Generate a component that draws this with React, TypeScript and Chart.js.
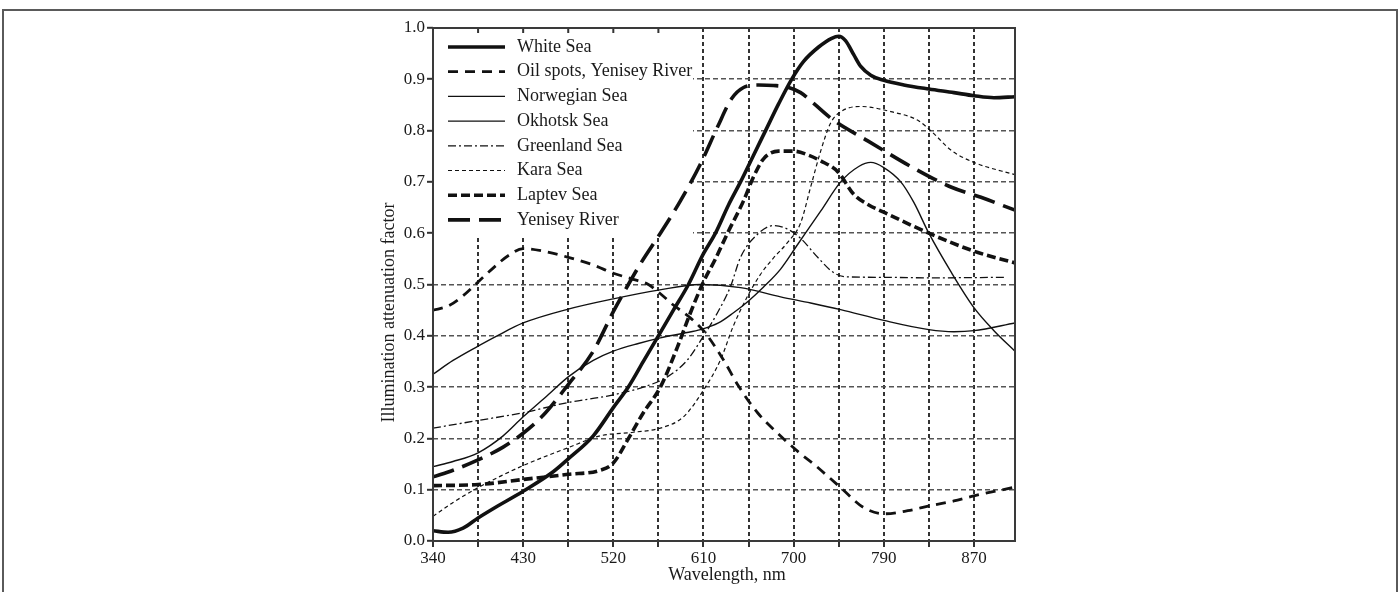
import React, { useEffect, useRef } from 'react';
import { Chart, registerables } from 'chart.js';

Chart.register(...registerables);

// ---- data ----
const X_TICKS = [340, 385, 430, 475, 520, 565, 610, 655, 700, 745, 790, 835, 880];
const X_LABELS = ['340', '430', '520', '610', '700', '790', '870'];
const X_TITLE = 'Wavelength, nm';
const Y_TITLE = 'Illumination attenuation factor';

const SERIES_NAMES = [
  'White Sea',
  'Oil spots, Yenisey River',
  'Norwegian Sea',
  'Okhotsk Sea',
  'Greenland Sea',
  'Kara Sea',
  'Laptev Sea',
  'Yenisey River',
];

const whiteSea: [number, number][] = [
  [340, 0.02], [355, 0.017], [370, 0.025], [385, 0.045], [400, 0.063], [430, 0.097],
  [460, 0.135], [475, 0.16], [500, 0.205], [520, 0.26], [535, 0.3], [550, 0.35],
  [565, 0.4], [580, 0.45], [595, 0.5], [610, 0.56], [622, 0.6], [635, 0.655],
  [647, 0.7], [660, 0.752], [672, 0.8], [685, 0.852], [698, 0.9], [710, 0.935],
  [725, 0.963], [738, 0.98], [745, 0.984], [752, 0.975], [760, 0.948], [767, 0.925],
  [777, 0.908], [790, 0.898], [810, 0.889], [835, 0.881], [860, 0.874], [880, 0.868],
  [900, 0.864], [921, 0.866],
];

const oilSpots: [number, number][] = [
  [340, 0.45], [355, 0.458], [370, 0.478], [385, 0.505], [400, 0.532], [415, 0.556],
  [430, 0.57], [450, 0.565], [475, 0.553], [500, 0.538], [520, 0.522], [540, 0.51],
  [555, 0.5], [567, 0.482], [580, 0.46], [595, 0.438], [610, 0.41], [630, 0.353],
  [645, 0.302], [664, 0.25], [684, 0.21], [707, 0.17], [720, 0.15], [747, 0.104],
  [770, 0.065], [790, 0.053], [814, 0.059], [837, 0.069], [860, 0.078], [880, 0.088],
  [921, 0.105],
];

const norwegianSea: [number, number][] = [
  [340, 0.325], [360, 0.352], [385, 0.38], [404, 0.4], [430, 0.425], [475, 0.452],
  [520, 0.472], [565, 0.489], [607, 0.5], [647, 0.494], [687, 0.476], [717, 0.464],
  [747, 0.451], [790, 0.43], [835, 0.412], [860, 0.408], [880, 0.41], [921, 0.425],
];

const okhotskSea: [number, number][] = [
  [340, 0.145], [360, 0.155], [385, 0.172], [410, 0.205], [430, 0.242], [455, 0.285],
  [475, 0.32], [500, 0.352], [520, 0.37], [545, 0.385], [567, 0.396], [590, 0.405],
  [607, 0.412], [625, 0.425], [640, 0.445], [655, 0.468], [670, 0.495], [687, 0.53],
  [704, 0.578], [727, 0.643], [747, 0.7], [765, 0.73], [777, 0.738], [790, 0.728],
  [807, 0.7], [820, 0.66], [835, 0.6], [857, 0.525], [880, 0.455], [900, 0.41],
  [921, 0.37],
];

const greenlandSea: [number, number][] = [
  [340, 0.22], [385, 0.235], [430, 0.25], [475, 0.27], [507, 0.28], [520, 0.285],
  [550, 0.3], [574, 0.32], [594, 0.353], [607, 0.39], [624, 0.445], [637, 0.496],
  [647, 0.553], [664, 0.598], [680, 0.615], [694, 0.608], [707, 0.59], [724, 0.553],
  [740, 0.523], [752, 0.515], [790, 0.514], [835, 0.513], [912, 0.514],
];

const karaSea: [number, number][] = [
  [340, 0.048], [360, 0.075], [385, 0.104], [430, 0.147], [475, 0.182], [507, 0.205],
  [540, 0.212], [567, 0.22], [590, 0.242], [610, 0.294], [627, 0.353], [640, 0.42],
  [654, 0.477], [667, 0.52], [680, 0.552], [694, 0.582], [707, 0.62], [717, 0.69],
  [727, 0.76], [737, 0.815], [748, 0.838], [767, 0.847], [797, 0.837], [824, 0.82],
  [840, 0.794], [857, 0.762], [880, 0.738], [921, 0.714],
];

const laptevSea: [number, number][] = [
  [340, 0.108], [385, 0.11], [430, 0.12], [475, 0.13], [507, 0.138], [520, 0.152],
  [534, 0.196], [550, 0.25], [567, 0.3], [584, 0.378], [597, 0.445], [610, 0.505],
  [622, 0.55], [634, 0.6], [650, 0.663], [660, 0.71], [670, 0.745], [685, 0.76],
  [700, 0.76], [715, 0.752], [727, 0.741], [744, 0.72], [760, 0.676], [775, 0.655],
  [790, 0.641], [835, 0.6], [880, 0.565], [921, 0.542],
];

const yeniseyRiver: [number, number][] = [
  [340, 0.125], [360, 0.138], [385, 0.158], [410, 0.183], [430, 0.21], [450, 0.245],
  [475, 0.305], [500, 0.37], [520, 0.447], [535, 0.5], [547, 0.54], [567, 0.6],
  [587, 0.663], [607, 0.735], [624, 0.807], [638, 0.862], [650, 0.884], [665, 0.889],
  [680, 0.888], [695, 0.884], [707, 0.874], [720, 0.853], [740, 0.82], [774, 0.78],
  [817, 0.73], [857, 0.69], [887, 0.67], [921, 0.645],
];

const SERIES_DATA = [whiteSea, oilSpots, norwegianSea, okhotskSea, greenlandSea, karaSea, laptevSea, yeniseyRiver];

// ---- styles ----
const LINE_WIDTHS = [3.6, 2.8, 1.4, 1.4, 1.3, 1.2, 3.6, 3.6];
const LINE_DASHES: number[][] = [[], [10, 7], [], [], [8, 3, 2, 3], [4, 3], [9, 4], [22, 9]];
const LINE_COLOR = '#111111';
const FONT = '"Liberation Serif", "DejaVu Serif", serif';

const plotFrame = {
  id: 'plotFrame',
  afterDatasetsDraw(chart: any) {
    const { ctx, chartArea: a } = chart;
    ctx.save();
    ctx.strokeStyle = '#3a3a3a';
    ctx.lineWidth = 2;
    ctx.setLineDash([]);
    ctx.strokeRect(a.left, a.top, a.right - a.left, a.bottom - a.top);
    ctx.restore();
  },
};

const legendBox = {
  id: 'legendBox',
  beforeDatasetsDraw(chart: any) {
    const { ctx, chartArea: a, scales } = chart;
    const right = 692;
    const bottom = 237;
    ctx.save();
    ctx.fillStyle = '#ffffff';
    ctx.fillRect(a.left + 1, a.top + 1, right - a.left, bottom - a.top);
    ctx.strokeStyle = '#333';
    ctx.lineWidth = 2;
    X_TICKS.forEach((v) => {
      const px = scales.x.getPixelForValue(v);
      if (px > a.left + 2 && px < right) {
        ctx.beginPath();
        ctx.moveTo(px, a.top);
        ctx.lineTo(px, a.top + 5);
        ctx.stroke();
      }
    });
    ctx.restore();
  },
  afterDatasetsDraw(chart: any) {
    const { ctx } = chart;
    ctx.save();
    ctx.font = `18px ${FONT}`;
    ctx.textBaseline = 'middle';
    ctx.textAlign = 'left';
    SERIES_NAMES.forEach((name, i) => {
      const y = 47 + i * 24.7;
      ctx.strokeStyle = LINE_COLOR;
      ctx.lineWidth = LINE_WIDTHS[i];
      ctx.setLineDash(LINE_DASHES[i]);
      ctx.lineCap = 'butt';
      ctx.beginPath();
      ctx.moveTo(448, y);
      ctx.lineTo(505, y);
      ctx.stroke();
      ctx.setLineDash([]);
      ctx.fillStyle = '#1a1a1a';
      ctx.fillText(name, 517, y);
    });
    ctx.restore();
  },
};

const axisTitles = {
  id: 'axisTitles',
  afterDraw(chart: any) {
    const { ctx, chartArea: a } = chart;
    ctx.save();
    ctx.fillStyle = '#1a1a1a';
    ctx.font = `18px ${FONT}`;
    ctx.textAlign = 'center';
    ctx.textBaseline = 'middle';
    ctx.fillText(X_TITLE, (a.left + a.right) / 2 + 3, a.bottom + 34);
    ctx.translate(a.left - 44, (a.top + a.bottom) / 2 + 28);
    ctx.rotate(-Math.PI / 2);
    ctx.fillText(Y_TITLE, 0, 0);
    ctx.restore();
  },
};

export default function App() {
  const ref = useRef<HTMLCanvasElement | null>(null);

  useEffect(() => {
    if (!ref.current) return;
    const chart = new Chart(ref.current, {
      type: 'line',
      data: {
        datasets: SERIES_NAMES.map((name, i) => ({
          label: name,
          data: SERIES_DATA[i].map(([x, y]) => ({ x, y })),
          borderColor: LINE_COLOR,
          backgroundColor: LINE_COLOR,
          borderWidth: LINE_WIDTHS[i],
          borderDash: LINE_DASHES[i],
          borderCapStyle: 'butt',
          pointRadius: 0,
          fill: false,
          cubicInterpolationMode: 'monotone',
        })),
      },
      options: {
        responsive: false,
        animation: false,
        events: [],
        layout: { padding: { left: 370, right: 385, top: 28, bottom: 0 } },
        plugins: { legend: { display: false }, tooltip: { enabled: false }, title: { display: false } },
        scales: {
          x: {
            type: 'linear',
            min: 340,
            max: 921,
            afterBuildTicks: (scale: any) => {
              scale.ticks = X_TICKS.map((v) => ({ value: v }));
            },
            afterFit: (scale: any) => {
              scale.height = 51;
            },
            ticks: {
              autoSkip: false,
              maxRotation: 0,
              padding: 1,
              color: '#1a1a1a',
              font: { family: FONT, size: 17 },
              callback: (_v: any, index: number) => (index % 2 === 0 ? X_LABELS[index / 2] : ''),
            },
            grid: {
              color: '#333333',
              lineWidth: 2,
              tickLength: 6,
              tickColor: '#333333',
              tickWidth: 2,
            },
            border: { display: false, dash: [4, 3] },
          },
          y: {
            type: 'linear',
            min: 0,
            max: 1,
            afterFit: (scale: any) => {
              scale.width = 63;
            },
            ticks: {
              stepSize: 0.1,
              padding: 2,
              color: '#1a1a1a',
              font: { family: FONT, size: 17 },
              callback: (v: any) => Number(v).toFixed(1),
            },
            grid: {
              color: '#555555',
              lineWidth: 1.6,
              tickLength: 6,
              tickColor: '#333333',
              tickWidth: 2,
            },
            border: { display: false, dash: [5, 3] },
          },
        },
      },
      plugins: [legendBox, plotFrame, axisTitles],
    } as any);
    return () => chart.destroy();
  }, []);

  return (
    <div style={{ position: 'fixed', left: 0, top: 0, width: 1400, height: 592, overflow: 'hidden', background: '#fff' }}>
      <div
        style={{
          position: 'absolute',
          left: 2,
          top: 9,
          width: 1396,
          height: 700,
          boxSizing: 'border-box',
          border: '2px solid #5a5a5a',
        }}
      />
      <canvas ref={ref} width={1400} height={592} style={{ position: 'absolute', left: 0, top: 0, width: 1400, height: 592 }} />
    </div>
  );
}
